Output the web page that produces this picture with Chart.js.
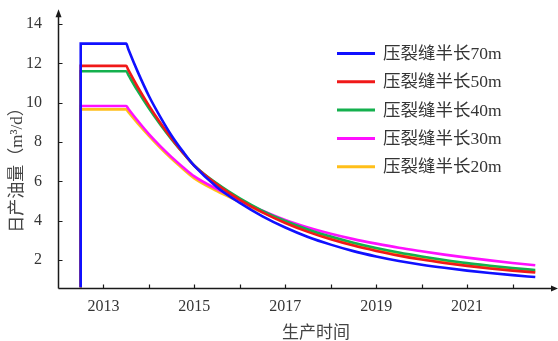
<!DOCTYPE html>
<html>
<head>
<meta charset="utf-8">
<script src="https://cdn.jsdelivr.net/npm/chart.js@4/dist/chart.umd.min.js"></script>
<style>
  html, body { margin: 0; padding: 0; background: #fff; }
  #wrap { width: 558px; height: 341px; }
</style>
</head>
<body>
<div id="wrap"><canvas id="c" width="558" height="341"></canvas></div>
<script>
// Production time (years); the first two entries give the start-up jump of each well.
const years = [2012.5, 2012.5, 2013.5, 2013.55, 2013.75, 2014, 2014.25, 2014.5, 2014.75, 2015,
               2015.5, 2016, 2016.5, 2017, 2017.5, 2018, 2018.5, 2019, 2019.5, 2020,
               2020.5, 2021, 2021.5, 2022, 2022.5];

// Daily oil rate (m³/d) for each fracture half-length
const rate70 = [0.6, 13.0, 13.0, 12.7, 11.59, 10.34, 9.28, 8.32, 7.51, 6.78,
                5.7, 4.9, 4.22, 3.65, 3.17, 2.78, 2.45, 2.18, 1.95, 1.76,
                1.6, 1.46, 1.34, 1.23, 1.13];
const rate50 = [0.6, 11.87, 11.87, 11.65, 10.81, 9.85, 8.98, 8.18, 7.45, 6.79,
                5.83, 5.06, 4.42, 3.88, 3.43, 3.05, 2.73, 2.46, 2.22, 2.02,
                1.85, 1.7, 1.57, 1.46, 1.36];
const rate40 = [0.6, 11.6, 11.6, 11.4, 10.61, 9.71, 8.89, 8.13, 7.44, 6.8,
                5.88, 5.13, 4.5, 3.98, 3.55, 3.19, 2.88, 2.61, 2.38, 2.18,
                2.0, 1.84, 1.71, 1.59, 1.49];
const rate30 = [0.6, 9.83, 9.83, 9.68, 9.09, 8.4, 7.79, 7.23, 6.72, 6.25,
                5.6, 5.04, 4.5, 4.03, 3.65, 3.33, 3.06, 2.83, 2.62, 2.44,
                2.27, 2.12, 1.98, 1.85, 1.73];
const rate20 = [0.6, 9.66, 9.66, 9.51, 8.96, 8.31, 7.7, 7.14, 6.63, 6.15,
                5.5, 4.95, 4.42, 3.93, 3.5, 3.12, 2.8, 2.53, 2.3, 2.1,
                1.93, 1.77, 1.64, 1.52, 1.42];

const seriesLabels = ['压裂缝半长70m', '压裂缝半长50m', '压裂缝半长40m', '压裂缝半长30m', '压裂缝半长20m'];
const seriesColors = ['#1010ff', '#f01818', '#14b04e', '#ff10ff', '#ffbf1a'];
const seriesValues = [rate70, rate50, rate40, rate30, rate20];

const xTicks = [2013, 2014, 2015, 2016, 2017, 2018, 2019, 2020, 2021, 2022];
const xTickLabels = ['2013', '', '2015', '', '2017', '', '2019', '', '2021', ''];
const yTicks = [2, 4, 6, 8, 10, 12, 14];
const yTickLabels = ['2', '4', '6', '8', '10', '12', '14'];

const xTitle = '生产时间';
const yTitle = '日产油量（m³/d）';

const serifStack = "'Liberation Serif', 'Noto Sans CJK SC', serif";
const textColor = '#353535';

// Axis lines with arrow heads, inward ticks, axis titles and the in-plot legend
const framePlugin = {
  id: 'frame',
  afterDraw(chart) {
    const { ctx, chartArea: a, scales: { x, y } } = chart;
    ctx.save();
    ctx.strokeStyle = '#1a1a1a';
    ctx.fillStyle = '#1a1a1a';
    ctx.lineWidth = 1.5;

    const x0 = Math.round(a.left) + 0.5;
    const y0 = Math.round(a.bottom) + 0.5;
    ctx.beginPath();
    ctx.moveTo(x0, y0);
    ctx.lineTo(x0, a.top + 3);
    ctx.moveTo(x0, y0);
    ctx.lineTo(a.right - 3, y0);
    ctx.stroke();

    // arrow heads
    ctx.beginPath();
    ctx.moveTo(x0, a.top - 3);
    ctx.lineTo(x0 - 3, a.top + 5);
    ctx.lineTo(x0 + 3, a.top + 5);
    ctx.closePath();
    ctx.fill();
    ctx.beginPath();
    ctx.moveTo(a.right, y0);
    ctx.lineTo(a.right - 7, y0 - 3);
    ctx.lineTo(a.right - 7, y0 + 3);
    ctx.closePath();
    ctx.fill();

    // inward ticks
    ctx.lineWidth = 1.2;
    ctx.beginPath();
    yTicks.forEach(v => {
      const py = Math.round(y.getPixelForValue(v)) + 0.5;
      ctx.moveTo(x0, py);
      ctx.lineTo(x0 + 4, py);
    });
    xTicks.forEach(v => {
      const px = Math.round(x.getPixelForValue(v)) + 0.5;
      ctx.moveTo(px, y0);
      ctx.lineTo(px, y0 - 4);
    });
    ctx.stroke();

    // axis titles
    ctx.fillStyle = '#444';
    ctx.textAlign = 'center';
    ctx.textBaseline = 'middle';
    ctx.font = "17px 'Noto Sans CJK SC', sans-serif";
    ctx.fillText(xTitle, (a.left + a.right) / 2 + 8, 331.5);
    ctx.save();
    ctx.translate(17.5, 166);
    ctx.rotate(-Math.PI / 2);
    ctx.font = "17px " + serifStack;
    ctx.fillText(yTitle, 0, 0);
    ctx.restore();

    // legend
    ctx.textAlign = 'left';
    ctx.font = "17.5px " + serifStack;
    chart.data.datasets.forEach((ds, i) => {
      const ry = 53.5 + i * 28.3;
      ctx.strokeStyle = ds.borderColor;
      ctx.lineWidth = 3;
      ctx.beginPath();
      ctx.moveTo(337, ry);
      ctx.lineTo(375, ry);
      ctx.stroke();
      ctx.fillStyle = textColor;
      ctx.fillText(ds.label, 383, ry + 1);
    });
    ctx.restore();
  }
};

new Chart(document.getElementById('c'), {
  type: 'line',
  data: {
    datasets: seriesValues.map((vals, i) => ({
      label: seriesLabels[i],
      data: years.map((yr, k) => ({ x: yr, y: vals[k] })),
      borderColor: seriesColors[i],
      backgroundColor: seriesColors[i],
      borderWidth: 2.6,
      pointRadius: 0,
      cubicInterpolationMode: 'monotone',
      fill: false
    }))
  },
  options: {
    responsive: false,
    devicePixelRatio: 1,
    animation: false,
    layout: { padding: { top: 12.2, right: 0, left: 0, bottom: 0 } },
    plugins: {
      legend: { display: false },
      tooltip: { enabled: false }
    },
    scales: {
      x: {
        type: 'linear',
        min: 2012,
        max: 2023,
        grid: { display: false },
        border: { display: false },
        afterBuildTicks: s => { s.ticks = xTicks.map(v => ({ value: v })); },
        afterFit: s => { s.height = 53.5; s.paddingLeft = 0; s.paddingRight = 0; },
        ticks: {
          autoSkip: false,
          maxRotation: 0,
          padding: 2,
          color: textColor,
          font: { family: serifStack, size: 16 },
          callback: v => xTickLabels[xTicks.indexOf(v)] ?? ''
        }
      },
      y: {
        type: 'linear',
        min: 0.6,
        max: 14.6,
        grid: { display: false },
        border: { display: false },
        afterBuildTicks: s => { s.ticks = yTicks.map(v => ({ value: v })); },
        afterFit: s => { s.width = 58; s.paddingTop = 0; s.paddingBottom = 0; },
        ticks: {
          padding: 8,
          color: textColor,
          font: { family: serifStack, size: 16 },
          callback: v => yTickLabels[yTicks.indexOf(v)] ?? ''
        }
      }
    }
  },
  plugins: [framePlugin]
});
</script>
</body>
</html>
